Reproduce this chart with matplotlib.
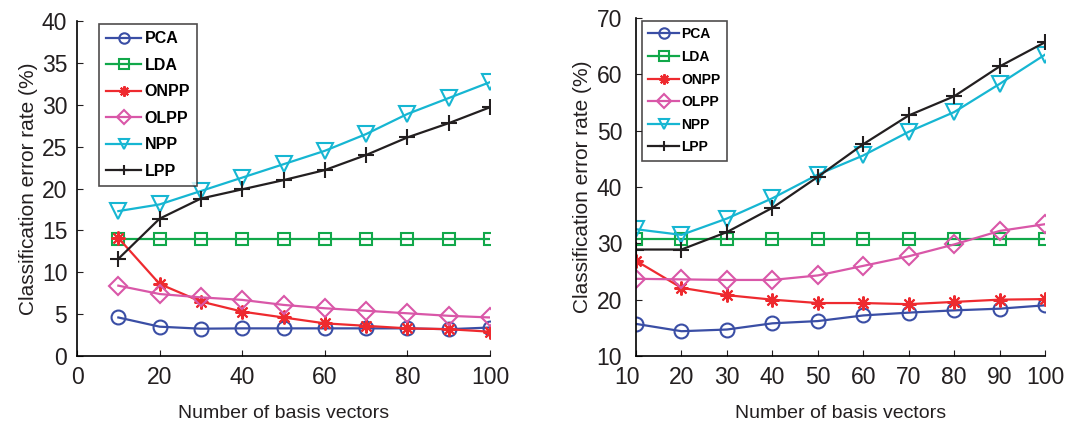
"""Classification error rate vs number of basis vectors (two datasets)"""

import matplotlib
matplotlib.use('Agg')
import matplotlib.pyplot as plt
import matplotlib.transforms as mtransforms

plt.rcParams['font.family'] = ['Liberation Sans', 'DejaVu Sans']

# left panel
x_left = [10, 20, 30, 40, 50, 60, 70, 80, 90, 100]
pca_left = [4.6, 3.5, 3.26, 3.3, 3.3, 3.3, 3.3, 3.3, 3.2, 3.4]
lda_left = [14.0, 14.0, 14.0, 14.0, 14.0, 14.0, 14.0, 14.0, 14.0, 14.0]
onpp_left = [14.1, 8.6, 6.5, 5.3, 4.6, 3.9, 3.6, 3.3, 3.2, 2.9]
olpp_left = [8.4, 7.4, 7.0, 6.7, 6.1, 5.7, 5.4, 5.1, 4.8, 4.6]
npp_left = [17.3, 18.1, 19.7, 21.3, 22.9, 24.5, 26.5, 28.9, 30.8, 32.7]
lpp_left = [11.6, 16.4, 18.8, 19.9, 21.0, 22.2, 24.0, 26.1, 27.8, 29.7]

# right panel
x_right = [10, 20, 30, 40, 50, 60, 70, 80, 90, 100]
pca_right = [15.7, 14.4, 14.7, 15.8, 16.2, 17.2, 17.7, 18.1, 18.4, 19.0]
lda_right = [30.8, 30.8, 30.8, 30.8, 30.8, 30.8, 30.8, 30.8, 30.8, 30.8]
onpp_right = [26.9, 22.1, 20.8, 20.0, 19.4, 19.4, 19.2, 19.6, 20.0, 20.1]
olpp_right = [23.7, 23.6, 23.5, 23.5, 24.3, 26.0, 27.7, 29.8, 32.2, 33.4]
npp_right = [32.5, 31.5, 34.4, 38.0, 42.2, 45.6, 49.8, 53.3, 58.3, 63.5]
lpp_right = [28.9, 28.9, 32.0, 36.3, 41.8, 47.6, 52.7, 56.1, 61.4, 65.7]

labels = ['PCA', 'LDA', 'ONPP', 'OLPP', 'NPP', 'LPP']
colors = ['#3a4ea5', '#11a84a', '#ee2a2f', '#d957a8', '#16b6d2', '#231f20']
markers = ['o', 's', (8, 2, 0), 'D', 'v', '+']
msizes = [10, 8.5, 10, 9, 11, 12]


def draw(ax, x, series, xticks, yticks, legend_anchor, legend_size, spacing, ypad):
    for y, lab, c, m, ms in zip(series, labels, colors, markers, msizes):
        ax.plot(x, y, color=c, marker=m, markersize=ms, markerfacecolor='none',
                markeredgecolor=c, markeredgewidth=1.5, linewidth=1.6, label=lab)
    ax.set_xticks(xticks)
    ax.set_yticks(yticks)
    ax.set_xlim(xticks[0], xticks[-1])
    ax.set_ylim(yticks[0], yticks[-1])
    ax.spines['top'].set_visible(False)
    ax.spines['right'].set_visible(False)
    ax.spines['left'].set_linewidth(1.2)
    ax.spines['bottom'].set_linewidth(1.2)
    ax.tick_params(direction='in', length=4, labelsize=16.5, colors='#231f20')
    ax.tick_params(axis='x', pad=7)
    ax.tick_params(axis='y', pad=ypad)
    ax.set_xlabel('Number of basis vectors', fontsize=14, labelpad=12, color='#231f20')
    ax.set_ylabel('Classification error rate (%)', fontsize=15, labelpad=3, color='#231f20')
    leg = ax.legend(loc='upper left', bbox_to_anchor=legend_anchor,
                    bbox_transform=fig.transFigure, fancybox=False,
                    prop={'weight': 'bold', 'size': legend_size},
                    handlelength=2.2, handletextpad=0.2, borderpad=0.45,
                    labelspacing=spacing, borderaxespad=0)
    leg.get_frame().set_edgecolor('#231f20')
    leg.get_frame().set_linewidth(1.2)
    for line in leg.get_lines():
        line.set_markersize(7.5)


fig = plt.figure(figsize=(10.85, 4.21), dpi=100)
ax1 = fig.add_axes([0.0710, 0.1544, 0.3806, 0.7957])
ax2 = fig.add_axes([0.5862, 0.1544, 0.3770, 0.8029])

draw(ax1, x_left,
     [pca_left, lda_left, onpp_left, olpp_left, npp_left, lpp_left],
     [0, 20, 40, 60, 80, 100], [0, 5, 10, 15, 20, 25, 30, 35, 40],
     (0.0912, 0.943), 11.5, 0.72, 7)
draw(ax2, x_right,
     [pca_right, lda_right, onpp_right, olpp_right, npp_right, lpp_right],
     [10, 20, 30, 40, 50, 60, 70, 80, 90, 100], [10, 20, 30, 40, 50, 60, 70],
     (0.5917, 0.950), 10, 0.62, 10)

# first x tick label on the right panel sits a little to the left of the axis
first = ax2.get_xticklabels()[0]
first.set_transform(first.get_transform()
                    + mtransforms.ScaledTranslation(-0.09, 0, fig.dpi_scale_trans))

fig.savefig('out.png', dpi=100)
